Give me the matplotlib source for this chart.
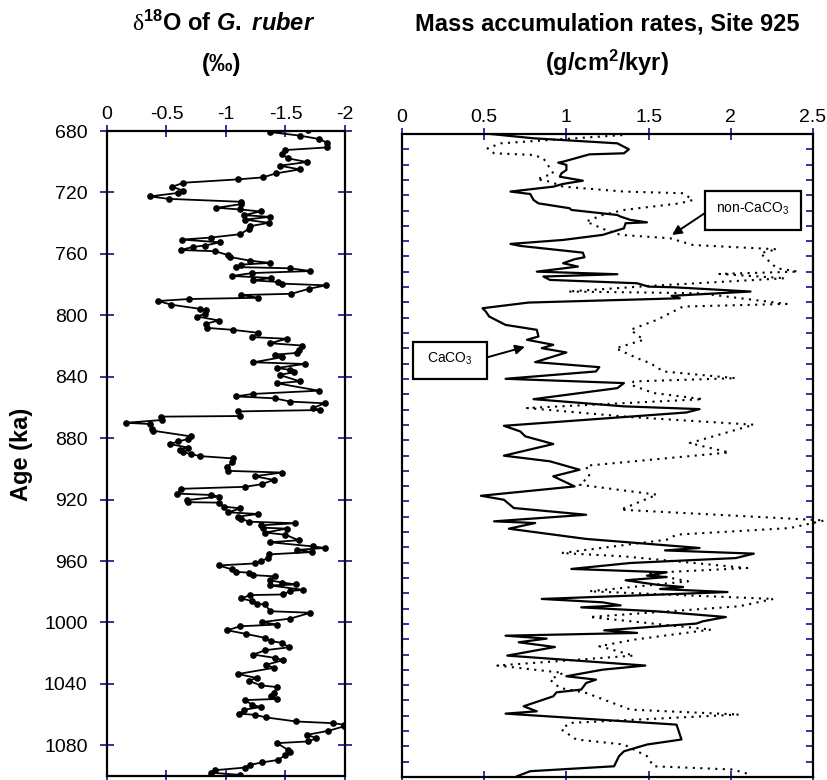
import matplotlib.pyplot as plt
from matplotlib.patches import Rectangle

plt.rcParams['font.family'] = 'Liberation Sans'
plt.rcParams['mathtext.fontset'] = 'custom'
plt.rcParams['mathtext.rm'] = 'Liberation Sans:bold'
plt.rcParams['mathtext.it'] = 'Liberation Sans:bold:italic'
plt.rcParams['mathtext.bf'] = 'Liberation Sans:bold'
plt.rcParams['mathtext.sf'] = 'Liberation Sans'
plt.rcParams['mathtext.tt'] = 'Liberation Serif'

# --- left panel: d18O of G. ruber (per mil) vs age (ka)
age_d18o = [679.5, 680.7, 683.0, 685.2, 687.6, 690.7, 692.4, 695.2, 697.8, 700.2,
            702.6, 705.0, 707.6, 710.2, 711.5, 713.7, 716.3, 718.9, 720.3, 722.6,
            724.2, 726.1, 727.6, 730.0, 731.1, 732.4, 734.8, 735.9, 737.7, 739.8,
            742.0, 743.8, 747.2, 749.4, 750.7, 752.5, 754.6, 755.5, 757.5, 758.3,
            760.9, 762.0, 764.4, 765.9, 767.0, 768.6, 769.4, 771.2, 772.5, 774.4,
            775.7, 777.3, 778.3, 779.4, 780.5, 782.7, 786.0, 786.8, 788.6, 789.4,
            790.7, 793.1, 795.8, 796.8, 799.0, 800.8, 803.4, 805.5, 808.2, 809.5,
            811.4, 814.2, 815.3, 818.2, 819.7, 822.5, 824.5, 825.6, 827.3, 830.6,
            831.7, 834.3, 835.6, 837.1, 838.8, 843.0, 844.3, 849.1, 851.2, 852.8,
            854.1, 856.2, 857.3, 860.4, 861.7, 862.6, 865.6, 866.0, 868.2, 870.0,
            870.8, 874.1, 875.2, 878.9, 880.6, 882.1, 883.9, 886.1, 887.4, 889.1,
            890.4, 891.7, 893.2, 895.8, 899.1, 901.3, 902.4, 904.8, 907.2, 910.0,
            911.7, 913.0, 916.1, 917.0, 918.0, 920.4, 921.7, 922.0, 924.6, 925.7,
            928.3, 929.4, 931.1, 932.4, 934.4, 935.4, 936.8, 938.3, 938.9, 941.5,
            942.9, 946.5, 947.8, 950.5, 951.5, 952.8, 954.2, 955.7, 958.3, 960.0,
            961.6, 962.9, 965.5, 967.0, 967.6, 969.2, 970.0, 972.6, 974.0, 975.3,
            975.9, 978.8, 979.5, 981.8, 982.2, 984.4, 986.1, 987.9, 988.3, 992.7,
            993.7, 997.5, 999.8, 1001.4, 1002.5, 1005.1, 1007.5, 1010.1, 1012.2, 1013.3,
            1016.2, 1018.1, 1020.9, 1023.1, 1024.6, 1027.5, 1029.6, 1033.6, 1036.2, 1037.9,
            1041.0, 1042.1, 1046.0, 1047.7, 1049.8, 1050.6, 1053.6, 1055.1, 1056.9, 1059.5,
            1060.1, 1061.9, 1064.5, 1065.6, 1066.6, 1067.7, 1070.6, 1073.2, 1075.3, 1077.5,
            1078.6, 1083.0, 1084.5, 1086.2, 1089.5, 1091.2, 1092.8, 1094.5, 1096.2, 1097.8,
            1099.3]
d18o = [-1.69, -1.37, -1.62, -1.78, -1.85, -1.85, -1.50, -1.47, -1.52, -1.68,
        -1.45, -1.62, -1.42, -1.31, -1.10, -0.64, -0.55, -0.64, -0.60, -0.36,
        -0.52, -1.13, -1.13, -0.92, -1.12, -1.29, -1.15, -1.37, -1.16, -1.36,
        -1.20, -1.19, -1.12, -0.87, -0.63, -0.95, -0.82, -0.72, -0.62, -0.91,
        -1.02, -1.03, -1.20, -1.37, -1.13, -1.08, -1.54, -1.71, -1.22, -1.05,
        -1.38, -1.23, -1.44, -1.47, -1.84, -1.70, -1.55, -1.13, -1.27, -0.69,
        -0.43, -0.54, -0.78, -0.83, -0.82, -0.76, -0.94, -0.83, -0.84, -1.06,
        -1.27, -1.22, -1.51, -1.37, -1.64, -1.61, -1.60, -1.41, -1.47, -1.23,
        -1.66, -1.43, -1.54, -1.57, -1.45, -1.62, -1.43, -1.78, -1.23, -1.08,
        -1.41, -1.54, -1.83, -1.73, -1.79, -1.10, -1.12, -0.45, -0.46, -0.16,
        -0.36, -0.38, -0.39, -0.71, -0.68, -0.60, -0.53, -0.68, -0.61, -0.64,
        -0.71, -0.78, -1.06, -1.05, -1.01, -1.02, -1.47, -1.24, -1.40, -1.30,
        -1.16, -0.62, -0.59, -0.87, -0.94, -0.67, -0.68, -0.94, -0.98, -1.12,
        -1.02, -1.27, -1.10, -1.13, -1.19, -1.58, -1.29, -1.31, -1.51, -1.33,
        -1.50, -1.61, -1.37, -1.73, -1.83, -1.60, -1.72, -1.36, -1.35, -1.29,
        -1.24, -0.94, -1.05, -1.08, -1.19, -1.23, -1.41, -1.37, -1.47, -1.59,
        -1.37, -1.65, -1.54, -1.48, -1.20, -1.13, -1.22, -1.26, -1.33, -1.37,
        -1.71, -1.54, -1.30, -1.43, -1.12, -1.01, -1.17, -1.33, -1.38, -1.47,
        -1.53, -1.33, -1.23, -1.41, -1.48, -1.34, -1.40, -1.10, -1.26, -1.19,
        -1.29, -1.43, -1.40, -1.38, -1.43, -1.16, -1.22, -1.29, -1.15, -1.11,
        -1.24, -1.34, -1.59, -1.90, -1.99, -1.99, -1.86, -1.68, -1.76, -1.69,
        -1.43, -1.52, -1.54, -1.50, -1.44, -1.30, -1.20, -1.16, -0.91, -0.87,
        -1.12]

# --- right panel: mass accumulation rates (g/cm2/kyr)
age_caco3 = [680.0, 682.8, 686.1, 690.0, 692.6, 693.3, 698.1, 698.7, 700.2, 703.5,
             705.7, 707.9, 710.5, 712.6, 714.4, 717.6, 719.2, 723.1, 725.3, 728.5,
             729.6, 732.9, 734.0, 736.1, 737.7, 738.3, 741.6, 745.9, 749.2, 751.8,
             753.1, 756.8, 757.5, 760.5, 761.8, 764.4, 766.6, 769.9, 771.6, 773.1,
             775.3, 777.5, 779.7, 780.1, 782.9, 785.7, 787.3, 790.1, 793.8, 796.0,
             799.2, 804.7, 807.9, 812.3, 814.4, 817.7, 819.9, 822.7, 829.0, 832.3,
             835.1, 839.9, 842.7, 846.0, 853.2, 857.9, 859.7, 861.9, 870.6, 874.3,
             877.5, 882.5, 890.1, 893.8, 899.3, 903.6, 910.2, 916.3, 918.9, 924.3,
             928.7, 933.0, 934.1, 937.8, 944.5, 950.4, 952.0, 954.1, 957.0, 960.2,
             964.1, 966.3, 968.5, 969.4, 971.5, 974.4, 975.9, 977.2, 979.2, 983.7,
             985.9, 987.9, 989.2, 991.8, 995.5, 998.3, 999.8, 1004.2, 1005.9, 1007.7,
             1009.6, 1012.0, 1015.1, 1020.7, 1027.2, 1029.9, 1034.2, 1036.4, 1038.6, 1042.9,
             1044.7, 1047.3, 1053.8, 1057.1, 1058.6, 1065.8, 1075.5, 1078.8, 1083.2, 1086.4,
             1093.0, 1096.2, 1099.5]
mar_caco3 = [0.54, 0.80, 1.31, 1.38, 1.35, 1.14, 0.98, 0.95, 1.00, 1.00,
             0.97, 0.96, 1.10, 0.98, 0.92, 0.66, 0.78, 0.80, 0.83, 1.02,
             1.03, 1.31, 1.33, 1.39, 1.49, 1.36, 1.35, 1.22, 0.98, 0.66,
             0.72, 1.04, 1.10, 1.11, 1.05, 0.98, 1.07, 0.82, 1.31, 0.86,
             0.90, 1.43, 1.50, 1.65, 2.12, 1.64, 1.69, 0.77, 0.49, 0.51,
             0.53, 0.63, 0.82, 0.83, 0.76, 0.92, 0.85, 1.00, 0.81, 1.20,
             1.18, 0.63, 1.35, 1.31, 0.80, 1.35, 1.81, 1.73, 0.62, 0.72,
             0.75, 0.92, 0.62, 0.90, 1.08, 0.92, 1.05, 0.48, 0.62, 0.68,
             1.12, 0.56, 0.81, 0.65, 1.12, 1.81, 1.60, 2.14, 2.03, 1.39,
             1.03, 1.61, 1.49, 1.61, 1.36, 1.55, 1.71, 1.57, 1.98, 0.85,
             1.22, 1.33, 1.09, 1.55, 1.97, 1.83, 1.79, 1.23, 1.43, 0.63,
             0.88, 0.71, 0.93, 0.64, 1.48, 1.22, 1.00, 1.18, 1.12, 1.09,
             0.94, 0.92, 0.74, 0.82, 0.63, 1.67, 1.70, 1.49, 1.35, 1.32,
             1.29, 0.78, 0.70]

age_noncarb = [680.7, 686.1, 689.4, 692.6, 693.7, 695.9, 699.1, 705.7, 709.6, 711.1,
               714.4, 717.6, 718.7, 723.1, 725.3, 729.6, 732.9, 737.2, 742.7, 745.9,
               748.1, 752.5, 755.3, 757.9, 767.7, 769.9, 771.4, 774.2, 779.2, 782.9,
               784.0, 791.0, 792.7, 801.4, 807.9, 814.4, 820.0, 826.4, 829.7, 835.1,
               839.5, 841.6, 843.8, 849.2, 853.2, 859.0, 864.9, 869.9, 881.9, 888.0,
               896.7, 903.6, 909.1, 915.6, 925.4, 932.4, 937.4, 941.7, 945.0, 953.7,
               955.9, 963.5, 966.8, 972.2, 978.7, 983.7, 988.5, 995.5, 1003.7, 1010.3,
               1014.6, 1020.7, 1027.2, 1032.0, 1036.4, 1041.8, 1045.1, 1056.0, 1059.2, 1064.7,
               1069.0, 1075.5, 1078.8, 1086.4, 1093.0, 1095.1, 1098.4]
mar_noncarb = [1.34, 0.60, 0.52, 0.56, 0.80, 0.86, 0.88, 0.92, 0.82, 0.90,
               0.98, 1.35, 1.71, 1.77, 1.69, 1.35, 1.22, 1.12, 1.24, 1.33,
               1.63, 1.77, 2.28, 2.18, 2.28, 2.41, 1.93, 2.33, 1.51, 1.01,
               1.81, 2.34, 1.71, 1.55, 1.39, 1.47, 1.30, 1.43, 1.51, 1.59,
               2.03, 1.41, 1.39, 1.53, 1.83, 0.76, 1.39, 2.14, 1.75, 1.99,
               1.12, 1.14, 1.08, 1.55, 1.33, 2.57, 2.36, 1.67, 1.61, 0.97,
               1.35, 2.10, 1.49, 1.74, 1.14, 2.26, 2.05, 1.14, 1.88, 1.41,
               1.20, 1.41, 0.58, 0.98, 0.90, 0.96, 1.12, 1.39, 2.05, 1.02,
               0.97, 1.06, 1.35, 1.49, 1.53, 2.01, 2.12]

left_xticks = [0, -0.5, -1, -1.5, -2]
left_xlabels = ['0', '-0.5', '-1', '-1.5', '-2']
age_ticks = list(range(680, 1081, 40))
right_xticks = [0, 0.5, 1, 1.5, 2, 2.5]
right_xlabels = ['0', '0.5', '1', '1.5', '2', '2.5']

tick_col = '#333399'
W, H = 828, 780

fig = plt.figure(figsize=(W / 100, H / 100), dpi=100)
ax1 = fig.add_axes([107 / W, 1 - 776 / H, 238 / W, 645 / H])
ax2 = fig.add_axes([402 / W, 1 - 777 / H, 411 / W, 643 / H])

for ax in (ax1, ax2):
    for s in ax.spines.values():
        s.set_linewidth(1.6)
        s.set_color('k')
    ax.set_ylim(1100, 680)
    ax.xaxis.set_ticks_position('both')
    ax.yaxis.set_ticks_position('both')
    ax.tick_params(axis='x', labeltop=True, labelbottom=False, direction='inout',
                   length=8, width=1.4, color=tick_col, labelsize=14, pad=2)

# left panel
ax1.plot(d18o, age_d18o, '-o', color='k', lw=1.3, ms=3.8)
ax1.set_xlim(0, -2)
ax1.set_xticks(left_xticks)
ax1.set_xticklabels(left_xlabels)
ax1.set_yticks(age_ticks)
ax1.tick_params(axis='y', direction='inout', length=10, width=1.4, color=tick_col,
                labelsize=14, labelleft=True, labelright=False, pad=9)

# right panel
ax2.plot(mar_caco3, age_caco3, color='k', lw=1.6)
ax2.plot(mar_noncarb, age_noncarb, color='k', lw=1.5, ls=(0, (1, 2.6)), clip_on=False)
ax2.set_xlim(0, 2.5)
ax2.set_xticks(right_xticks)
ax2.set_xticklabels(right_xlabels)
ax2.set_yticks(list(range(680, 1101, 10)))
ax2.tick_params(axis='y', direction='in', length=5, width=1.4, color=tick_col,
                labelleft=False, labelright=False)

# label boxes with arrows
ax2.add_patch(Rectangle((0.737, 0.851), 0.234, 0.060, transform=ax2.transAxes,
                        fill=False, lw=1.6, ec='k', clip_on=False))
ax2.text(0.854, 0.883, r'non-CaCO$_{\mathsf{3}}$', transform=ax2.transAxes,
         ha='center', va='center', fontsize=10)
ax2.annotate('', xy=(0.657, 0.843), xytext=(0.737, 0.877),
             xycoords='axes fraction', textcoords='axes fraction',
             arrowprops=dict(arrowstyle='-|>', color='k', lw=1.4, mutation_scale=14,
                             shrinkA=0, shrinkB=0))

ax2.add_patch(Rectangle((0.027, 0.619), 0.180, 0.058, transform=ax2.transAxes,
                        fill=False, lw=1.6, ec='k', clip_on=False))
ax2.text(0.117, 0.650, r'CaCO$_{\mathsf{3}}$', transform=ax2.transAxes,
         ha='center', va='center', fontsize=10)
ax2.annotate('', xy=(0.299, 0.669), xytext=(0.209, 0.653),
             xycoords='axes fraction', textcoords='axes fraction',
             arrowprops=dict(arrowstyle='-|>', color='k', lw=1.4, mutation_scale=14,
                             shrinkA=0, shrinkB=0))

# titles
fig.text(224 / W, 1 - 31 / H, r'$\mathtt{\delta}^{\mathrm{18}}$O of $\mathit{G.}$ $\mathit{ruber}$',
         ha='center', va='baseline', fontsize=17, fontweight='bold')
fig.text(222 / W, 1 - 71 / H, '(\u2030)', ha='center', va='baseline',
         fontsize=17, fontweight='bold')
fig.text(607 / W, 1 - 31 / H, 'Mass accumulation rates, Site 925',
         ha='center', va='baseline', fontsize=17, fontweight='bold')
fig.text(607 / W, 1 - 71 / H, r'(g/cm$^{\mathrm{2}}$/kyr)',
         ha='center', va='baseline', fontsize=17, fontweight='bold')
fig.text(22 / W, 1 - 454 / H, 'Age (ka)', rotation=90, ha='center', va='center',
         fontsize=17, fontweight='bold')

fig.savefig('out.png', dpi=100)
